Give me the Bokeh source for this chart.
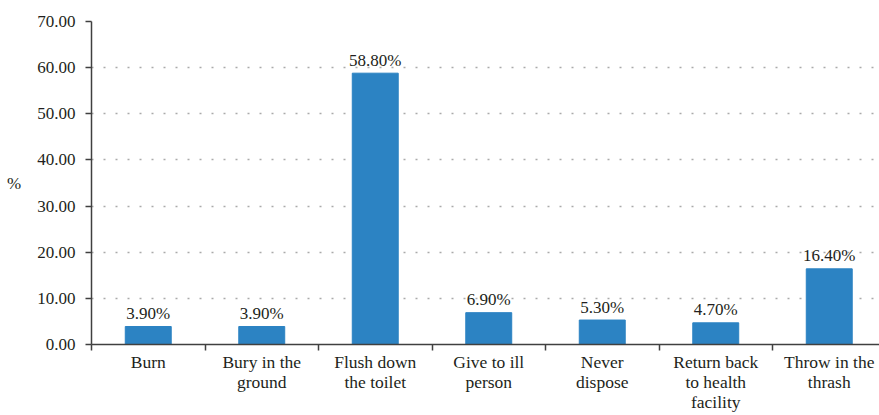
from bokeh.plotting import figure
from bokeh.models import Range1d, FixedTicker, ColumnDataSource
from bokeh.core.properties import value
from bokeh.embed import file_html
from bokeh.resources import INLINE

categories = ["Burn", "Bury in the\nground", "Flush down\nthe toilet", "Give to ill\nperson",
              "Never\ndispose", "Return back\nto health\nfacility", "Throw in the\nthrash"]
values = [3.9, 3.9, 58.8, 6.9, 5.3, 4.7, 16.4]
value_labels = ["3.90%", "3.90%", "58.80%", "6.90%", "5.30%", "4.70%", "16.40%"]
y_ticks = [0, 10, 20, 30, 40, 50, 60, 70]

FONT = "Liberation Serif"
TXT = "#231F20"
AX = "#404040"

centers = [i + 0.5 for i in range(len(categories))]
bounds = list(range(len(categories) + 1))

src = ColumnDataSource(dict(x=centers, top=values, lab=value_labels))

p = figure(width=879, height=415, output_backend="svg", toolbar_location=None,
           x_range=Range1d(0, 788 / 113.5), y_range=Range1d(0, 70),
           frame_width=788, frame_height=323,
           min_border_left=91, min_border_right=0, min_border_top=21, min_border_bottom=10)
p.outline_line_color = None
p.background_fill_color = "white"
p.border_fill_color = "white"

p.vbar(x="x", top="top", width=0.405, bottom=0, source=src, color="#2C83C3")
p.text(x="x", y="top", text="lab", source=src, text_align="center", text_baseline="alphabetic",
       y_offset=-13, text_font=value(FONT), text_font_size="17px", text_color=TXT)

# x axis
xa = p.xaxis[0]
xa.ticker = FixedTicker(ticks=centers, minor_ticks=bounds)
xa.major_label_overrides = {c: lab for c, lab in zip(centers, categories)}
xa.major_tick_line_color = None
xa.minor_tick_line_color = AX
xa.minor_tick_line_width = 1.5
xa.minor_tick_out = 6
xa.minor_tick_in = 0
xa.axis_line_color = AX
xa.axis_line_width = 1.5
xa.major_label_text_font = FONT
xa.major_label_text_font_size = "17.5px"
xa.major_label_text_color = TXT
xa.major_label_text_line_height = 1.0
xa.major_label_standoff = 1

# y axis
ya = p.yaxis[0]
ya.ticker = FixedTicker(ticks=y_ticks)
ya.major_label_overrides = {t: f"{t:.2f}" for t in y_ticks}
ya.minor_tick_line_color = None
ya.major_tick_out = 6
ya.major_tick_in = 0
ya.major_tick_line_color = AX
ya.major_tick_line_width = 1.5
ya.axis_line_color = AX
ya.axis_line_width = 1.5
ya.major_label_text_font = FONT
ya.major_label_text_font_size = "17px"
ya.major_label_text_color = TXT
ya.major_label_standoff = 10
ya.axis_label = "%"
ya.axis_label_text_font = FONT
ya.axis_label_text_font_size = "17px"
ya.axis_label_text_font_style = "normal"
ya.axis_label_text_color = TXT
ya.axis_label_standoff = 13
if "axis_label_orientation" in ya.properties():
    ya.axis_label_orientation = "horizontal"

p.xgrid.grid_line_color = None
p.ygrid.ticker = FixedTicker(ticks=y_ticks[1:])
p.ygrid.grid_line_color = "#aaaaaa"
p.ygrid.grid_line_width = 1.5
p.ygrid.grid_line_dash = "2 10"

open("out.html", "w").write(file_html(p, INLINE))
